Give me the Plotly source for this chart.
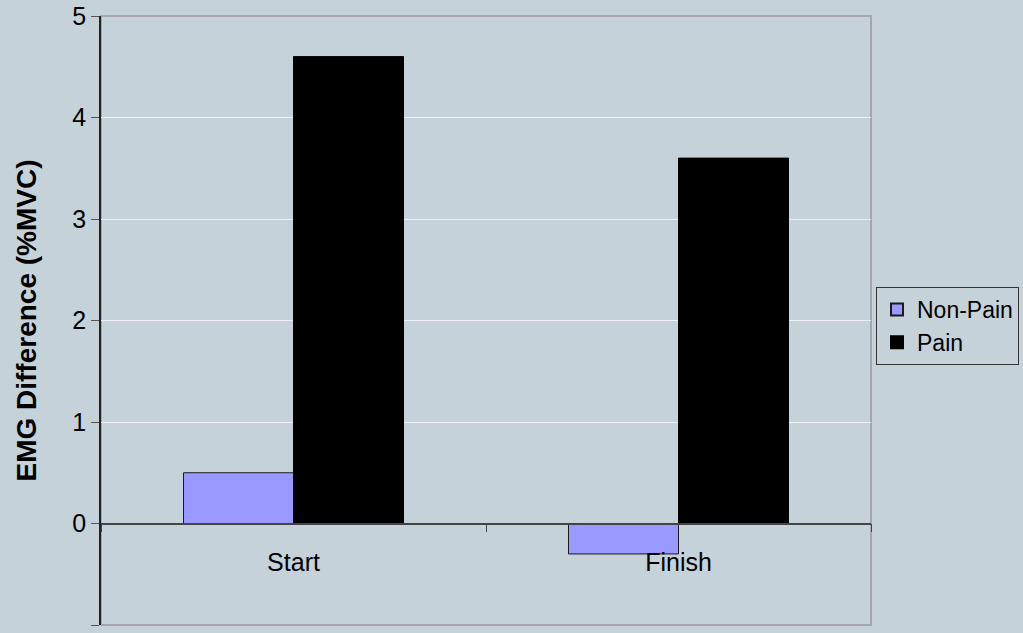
import plotly.graph_objects as go

# Data
phases = ["Start", "Finish"]
non_pain = [0.5, -0.3]
pain = [4.6, 3.6]
y_ticks = [-1, 0, 1, 2, 3, 4, 5]

BG = "#C6D2D9"
FONT = "Liberation Sans, Arial, sans-serif"

fig = go.Figure()
fig.add_trace(go.Bar(
    name="Non-Pain", x=phases, y=non_pain,
    marker=dict(color="#9999FF", line=dict(color="#1a1a1a", width=1)),
))
fig.add_trace(go.Bar(
    name="Pain", x=phases, y=pain,
    marker=dict(color="#000000", line=dict(color="#000000", width=1)),
))

# Plot-area frame
fig.add_shape(type="rect", xref="paper", yref="paper", x0=0, x1=1, y0=0, y1=1,
              line=dict(color="#9a9a9a", width=1.5), layer="below")

fig.update_layout(
    width=1023, height=633,
    margin=dict(l=101, r=152, t=16, b=8, autoexpand=False),
    paper_bgcolor=BG, plot_bgcolor=BG,
    font=dict(family=FONT, size=25, color="#000000"),
    barmode="group", bargap=0.4286, bargroupgap=0,
    showlegend=True,
    legend=dict(
        x=1.0065, y=0.555, xanchor="left", yanchor="top",
        bgcolor=BG, bordercolor="#333333", borderwidth=1,
        font=dict(family=FONT, size=23),
        itemsizing="constant", itemwidth=30,
    ),
    xaxis=dict(
        type="category", anchor="free", position=1/6,
        showline=True, linecolor="#444444", linewidth=1.5,
        tickson="boundaries", ticks="outside", ticklen=8, tickcolor="#444444",
        showgrid=False, zeroline=False, ticklabelstandoff=17,
        tickfont=dict(family=FONT, size=25),
    ),
    yaxis=dict(
        range=[-1, 5], tickvals=y_ticks,
        showline=True, linecolor="#222222", linewidth=1.5,
        ticks="outside", ticklen=8, tickcolor="#555555",
        showgrid=True, gridcolor="#EEF2F4", gridwidth=1,
        zeroline=False, tickfont=dict(family=FONT, size=25),
        title=dict(text="<b>EMG Difference (%MVC)</b>", standoff=28,
                   font=dict(family=FONT, size=28)),
    ),
)

fig.write_html("out.html")
